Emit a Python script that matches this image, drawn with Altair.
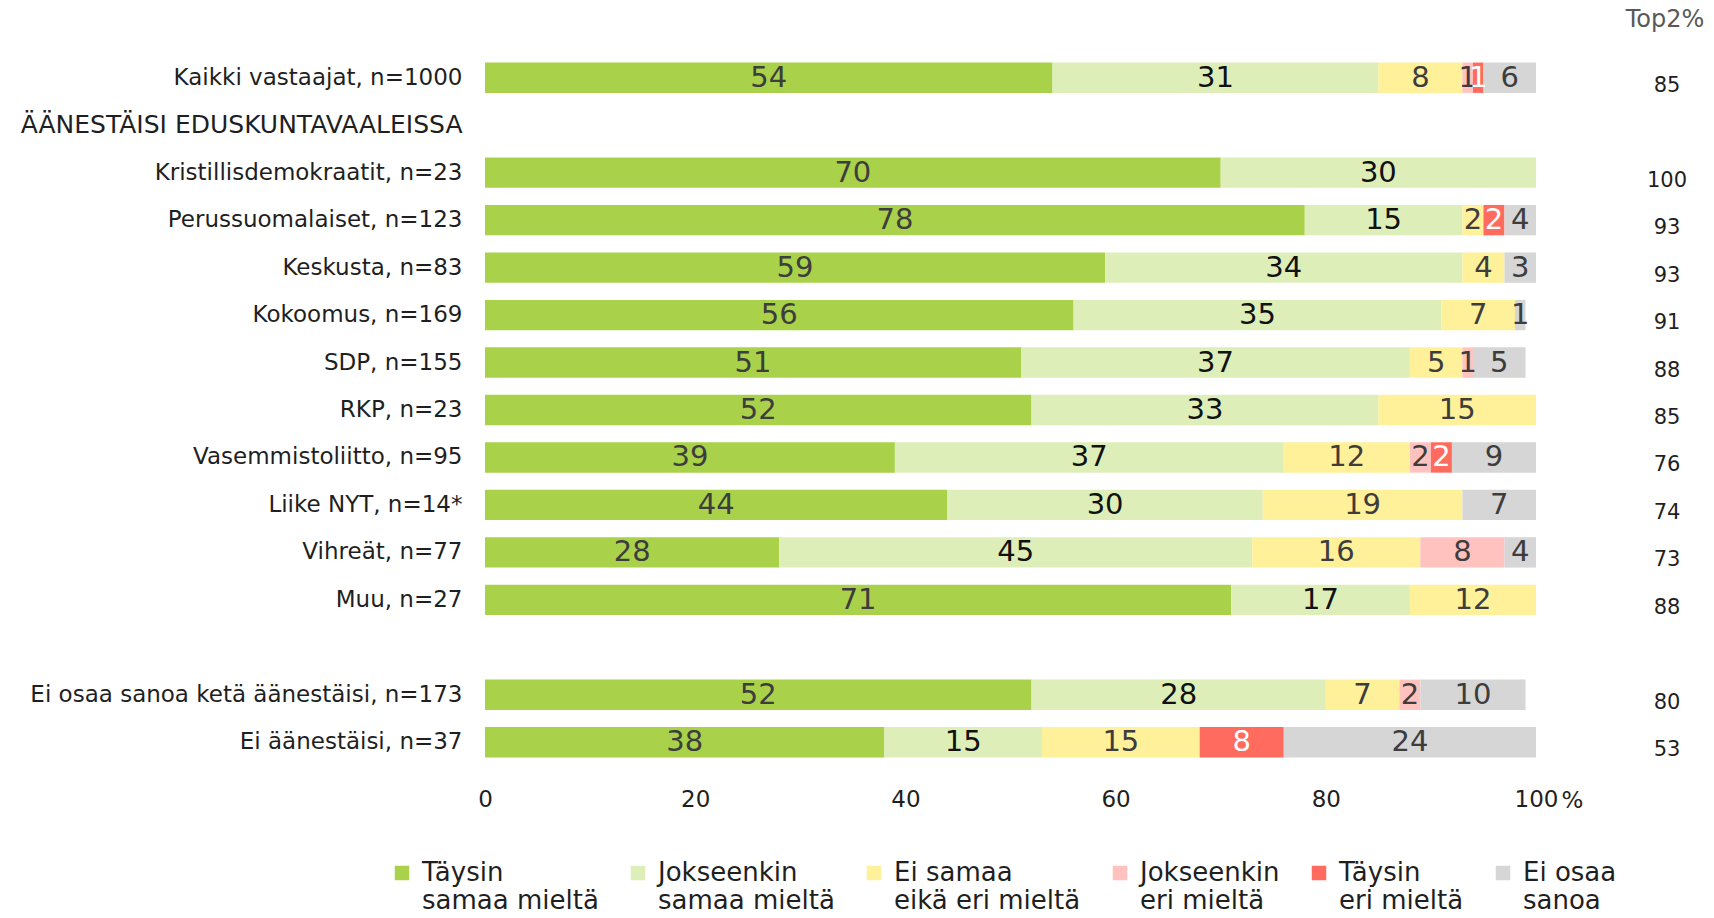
import altair as alt
import pandas as pd

FONT = "DejaVu Sans"

ROWS = [
    "Kaikki vastaajat, n=1000",
    "ÄÄNESTÄISI EDUSKUNTAVAALEISSA",
    "Kristillisdemokraatit, n=23",
    "Perussuomalaiset, n=123",
    "Keskusta, n=83",
    "Kokoomus, n=169",
    "SDP, n=155",
    "RKP, n=23",
    "Vasemmistoliitto, n=95",
    "Liike NYT, n=14*",
    "Vihreät, n=77",
    "Muu, n=27",
    " ",
    "Ei osaa sanoa ketä äänestäisi, n=173",
    "Ei äänestäisi, n=37",
]
HEADER_ROW = "ÄÄNESTÄISI EDUSKUNTAVAALEISSA"

GROUPS = [
    "Kaikki vastaajat, n=1000",
    "Kristillisdemokraatit, n=23",
    "Perussuomalaiset, n=123",
    "Keskusta, n=83",
    "Kokoomus, n=169",
    "SDP, n=155",
    "RKP, n=23",
    "Vasemmistoliitto, n=95",
    "Liike NYT, n=14*",
    "Vihreät, n=77",
    "Muu, n=27",
    "Ei osaa sanoa ketä äänestäisi, n=173",
    "Ei äänestäisi, n=37",
]

TAYSIN_SAMAA = [54, 70, 78, 59, 56, 51, 52, 39, 44, 28, 71, 52, 38]
JOKSEENKIN_SAMAA = [31, 30, 15, 34, 35, 37, 33, 37, 30, 45, 17, 28, 15]
EI_SAMAA_EIKA_ERI = [8, 0, 2, 4, 7, 5, 15, 12, 19, 16, 12, 7, 15]
JOKSEENKIN_ERI = [1, 0, 0, 0, 0, 1, 0, 2, 0, 8, 0, 2, 0]
TAYSIN_ERI = [1, 0, 2, 0, 0, 0, 0, 2, 0, 0, 0, 0, 8]
EI_OSAA = [6, 0, 4, 3, 1, 5, 0, 9, 7, 4, 0, 10, 24]
TOP2 = [85, 100, 93, 93, 91, 88, 85, 76, 74, 73, 88, 80, 53]

CATEGORIES = [
    "Täysin samaa mieltä",
    "Jokseenkin samaa mieltä",
    "Ei samaa eikä eri mieltä",
    "Jokseenkin eri mieltä",
    "Täysin eri mieltä",
    "Ei osaa sanoa",
]
LEGEND_LINE1 = ["Täysin", "Jokseenkin", "Ei samaa", "Jokseenkin", "Täysin", "Ei osaa"]
LEGEND_LINE2 = ["samaa mieltä", "samaa mieltä", "eikä eri mieltä", "eri mieltä", "eri mieltä", "sanoa"]
COLORS = ["#a9d24a", "#ddeeb8", "#fff09a", "#ffc2bf", "#ff6b5e", "#d6d6d6"]
TEXT_COLORS = ["#3d3d3d", "#111111", "#3d3d3d", "#3d3d3d", "#ffffff", "#3d3d3d"]

SERIES = [TAYSIN_SAMAA, JOKSEENKIN_SAMAA, EI_SAMAA_EIKA_ERI, JOKSEENKIN_ERI, TAYSIN_ERI, EI_OSAA]

records = []
for gi, g in enumerate(GROUPS):
    start = 0
    for ci, cat in enumerate(CATEGORIES):
        v = SERIES[ci][gi]
        if v > 0:
            end = start + v
            records.append({
                "group": g, "cat": cat, "order": ci, "value": v,
                "x0": start, "x1": end, "mid": (start + min(end, 100)) / 2,
                "label": str(v), "tcol": TEXT_COLORS[ci],
            })
        start += v
df = pd.DataFrame(records)
top_df = pd.DataFrame({"group": GROUPS, "top2": [str(t) for t in TOP2]})
head_df = pd.DataFrame({"t": ["Top2%"]})

# legend label expression: split each category into its two printed lines
expr = "datum.label"
for full, l1, l2 in reversed(list(zip(CATEGORIES, LEGEND_LINE1, LEGEND_LINE2))):
    expr = f"datum.label == '{full}' ? ['{l1}', '{l2}'] : ({expr})"

W = 1051
H = 712

yscale = alt.Scale(domain=ROWS, paddingInner=0.36, paddingOuter=0.18)
y_enc = alt.Y(
    "group:N", scale=yscale, sort=ROWS,
    axis=alt.Axis(title=None, domain=False, ticks=False, tickSize=0, labelFont=FONT,
                  labelFontSize={"condition": {"test": f"datum.label == '{HEADER_ROW}'", "value": 25},
                                 "value": 23},
                  labelColor="#1f1f1f", labelPadding=23, labelLimit=0),
)

legend = alt.Legend(
    title=None, orient="none", direction="horizontal", columns=6, legendX=-96, legendY=806,
    padding=0, gridAlign="each", columnPadding=26, symbolType="square", symbolSize=210,
    symbolStrokeWidth=0, labelFont=FONT, labelFontSize=26, labelColor="#1f1f1f",
    labelOffset=7, labelLimit=0, labelBaseline="middle",
    labelExpr=expr,
)

bars = alt.Chart(df).mark_bar().encode(
    x=alt.X("x0:Q", scale=alt.Scale(domain=[0, 100], nice=False, clamp=True),
            axis=alt.Axis(values=[0, 20, 40, 60, 80, 100], grid=False, domain=False, ticks=False,
                          tickSize=0, labelFlush=False, labelFont=FONT, labelFontSize=23,
                          labelColor="#1f1f1f", labelPadding=22, title="%", titleFont=FONT,
                          titleFontSize=23, titleFontWeight="normal", titleColor="#1f1f1f",
                          titleX=1087, titleY=34, titleBaseline="middle", titleAlign="center")),
    x2="x1:Q",
    y=y_enc,
    color=alt.Color("cat:N", scale=alt.Scale(domain=CATEGORIES, range=COLORS), legend=legend),
)

labels = alt.Chart(df).mark_text(font=FONT, fontSize=29, baseline="middle", align="center").encode(
    x="mid:Q",
    y=alt.Y("group:N", scale=yscale, sort=ROWS),
    text="label:N",
    color=alt.Color("tcol:N", scale=None),
)

top2 = alt.Chart(top_df).mark_text(font=FONT, fontSize=21, baseline="middle", align="center",
                                   dy=8, color="#1f1f1f").encode(
    x=alt.value(1182),
    y=alt.Y("group:N", scale=yscale, sort=ROWS),
    text="top2:N",
)

header = alt.Chart(head_df).mark_text(font=FONT, fontSize=24, baseline="middle", align="center",
                                      color="#595959").encode(
    x=alt.value(1180), y=alt.value(-34), text="t:N",
)

chart = alt.layer(bars, labels, top2, header).properties(
    width=W, height=H,
    autosize=alt.AutoSizeParams(type="none"),
    padding={"left": 477, "top": 46, "right": 170, "bottom": 144},
).configure_view(stroke=None)

chart.save("out.html", embed_options={"renderer": "svg", "actions": False})
